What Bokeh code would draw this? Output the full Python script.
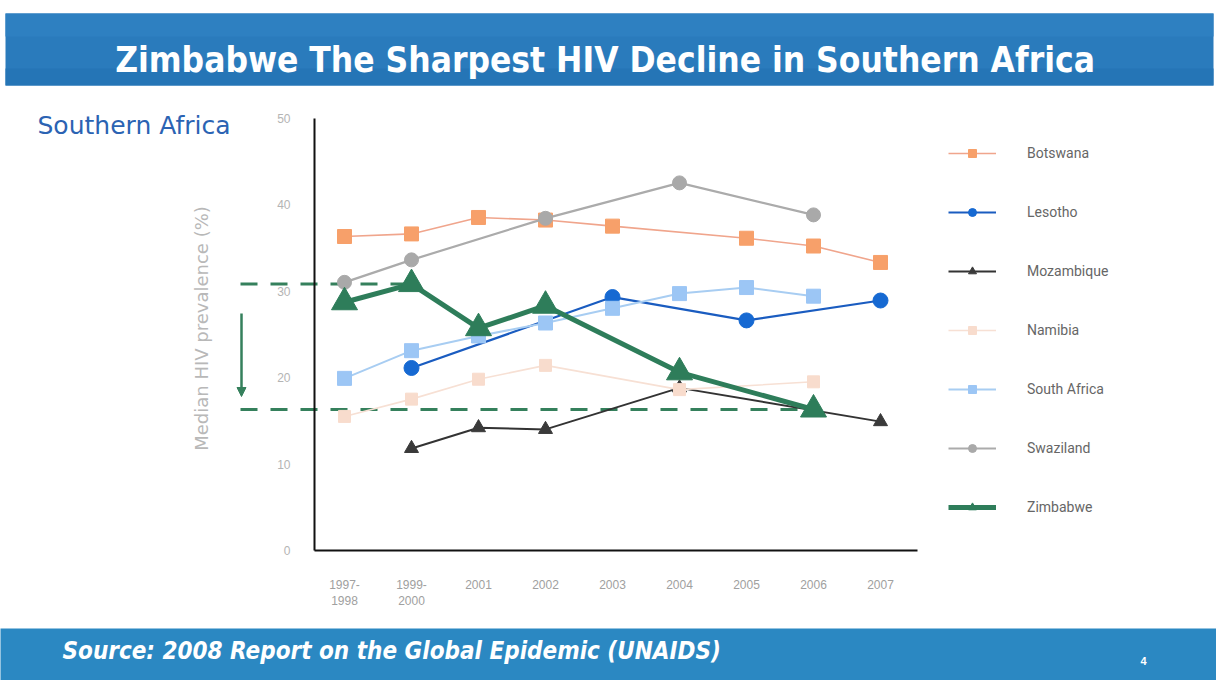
from math import pi
from bokeh.plotting import figure
from bokeh.models import Range1d, FixedTicker, BoxAnnotation, Label, Arrow, NormalHead
from bokeh.embed import file_html
from bokeh.resources import INLINE

# ---------------- data ----------------
categories = ["1997-\n1998", "1999-\n2000", "2001", "2002", "2003", "2004", "2005", "2006", "2007"]
y_ticks = [0, 10, 20, 30, 40, 50]

botswana     = [36.3, 36.6, 38.5, 38.2, 37.5, None, 36.1, 35.2, 33.3]
lesotho      = [None, 21.1, None, None, 29.3, None, 26.6, None, 28.9]
mozambique   = [None, 11.8, 14.2, 14.0, None, 18.8, None, None, 14.9]
namibia      = [15.5, 17.5, 19.8, 21.4, None, 18.6, None, 19.5, None]
south_africa = [19.9, 23.1, 24.8, 26.3, 28.0, 29.7, 30.4, 29.4, None]
swaziland    = [31.0, 33.6, None, 38.4, None, 42.5, None, 38.8, None]
zimbabwe     = [28.7, 30.8, 25.7, 28.3, None, 20.6, None, 16.3, None]

series = [
    ("Botswana", botswana, "#f0a58c", "#f7a06a", "square", 14, 1.6),
    ("Lesotho", lesotho, "#1a5cc0", "#1669d2", "circle", 15, 2.2),
    ("Mozambique", mozambique, "#333333", "#3a3a3a", "triangle", 14, 2.0),
    ("Namibia", namibia, "#f7e0d4", "#f8dccd", "square", 12, 1.6),
    ("South Africa", south_africa, "#a8cdf2", "#9cc6f5", "square", 14, 2.0),
    ("Swaziland", swaziland, "#ababab", "#a9a9a9", "circle", 14, 2.2),
    ("Zimbabwe", zimbabwe, "#2e7d5a", "#2e7d5a", "triangle", 26, 5.0),
]

# ---------------- layout geometry ----------------
W, H = 1216, 680
PX0, DX = 344.0, 67.0      # canvas x of first category, px per category
Y0, DY = 550.0, 8.65       # canvas y (from top) of value 0, px per unit

def dx(cx):
    return (cx - PX0) / DX

def dy(cy):
    return (Y0 - cy) / DY

p = figure(width=W, height=H,
           x_range=Range1d(dx(0), dx(W)), y_range=Range1d(dy(H), dy(0)),
           output_backend="svg", toolbar_location=None, min_border=0,
           outline_line_color=None, background_fill_color="white",
           border_fill_color="white")
p.xgrid.visible = False
p.ygrid.visible = False

# axes
p.yaxis.fixed_location = dx(314)
p.yaxis.bounds = (0, 50)
p.yaxis.ticker = FixedTicker(ticks=y_ticks)
p.yaxis.major_tick_line_color = None
p.yaxis.minor_tick_line_color = None
p.yaxis.major_tick_out = 0
p.yaxis.major_label_standoff = 24
p.yaxis.major_label_text_color = "#b4b4b4"
p.yaxis.major_label_text_font_size = "12px"
p.yaxis.axis_line_color = "#111111"
p.yaxis.axis_line_width = 2

p.xaxis.fixed_location = 0
p.xaxis.bounds = (dx(314), dx(917))
p.xaxis.ticker = FixedTicker(ticks=list(range(len(categories))))
p.xaxis.major_label_overrides = {i: c for i, c in enumerate(categories)}
p.xaxis.major_tick_line_color = None
p.xaxis.minor_tick_line_color = None
p.xaxis.major_tick_out = 0
p.xaxis.major_label_standoff = 27
p.xaxis.major_label_text_color = "#a0a0a0"
p.xaxis.major_label_text_font_size = "12px"
p.xaxis.axis_line_color = "#111111"
p.xaxis.axis_line_width = 2

# title bar
p.add_layout(BoxAnnotation(left=dx(5), right=dx(1213), top=dy(13), bottom=dy(85),
                           fill_color="#2a7bbc", fill_alpha=1, line_color=None))
p.add_layout(BoxAnnotation(left=dx(5), right=dx(1213), top=dy(13), bottom=dy(36),
                           fill_color="#2e80c1", fill_alpha=1, line_color=None))
p.add_layout(BoxAnnotation(left=dx(5), right=dx(1213), top=dy(68), bottom=dy(85),
                           fill_color="#2575b6", fill_alpha=1, line_color=None))
p.add_layout(Label(x=dx(610), y=dy(59), text="Zimbabwe  The Sharpest HIV Decline in Southern Africa",
                   text_align="center", text_baseline="middle", text_color="white",
                   text_font="DejaVu Sans Condensed", text_font_style="bold",
                   text_font_size="35px"))

# footer bar
p.add_layout(BoxAnnotation(left=dx(-5), right=dx(W + 5), top=dy(628), bottom=dy(H + 5),
                           fill_color="#2b88c2", fill_alpha=1, line_color=None))
p.add_layout(Label(x=dx(62), y=dy(650), text="Source: 2008 Report on the Global Epidemic (UNAIDS)",
                   text_align="left", text_baseline="middle", text_color="white",
                   text_font="DejaVu Sans Condensed", text_font_style="bold italic",
                   text_font_size="24px"))
p.add_layout(Label(x=dx(1143), y=dy(660), text="4", text_align="center",
                   text_baseline="middle", text_color="white", text_font_size="11px",
                   text_font_style="bold"))

# subtitle and y label
p.add_layout(Label(x=dx(37), y=dy(125), text="Southern Africa", text_align="left",
                   text_baseline="middle", text_color="#2b63b3",
                   text_font="DejaVu Sans", text_font_size="25px"))
p.add_layout(Label(x=dx(201), y=dy(328), text="Median HIV prevalence (%)", angle=pi / 2,
                   text_align="center", text_baseline="middle", text_color="#b8b8b8",
                   text_font="DejaVu Sans", text_font_size="18px"))

# reference dashed lines at Zimbabwe's 1999 peak and 2006 level
zim_peak_i, zim_low_i = 1, 7
p.segment(x0=[dx(240), dx(240)], y0=[zimbabwe[zim_peak_i], zimbabwe[zim_low_i]],
          x1=[zim_peak_i, zim_low_i], y1=[zimbabwe[zim_peak_i], zimbabwe[zim_low_i]],
          line_color="#35805c", line_width=3, line_dash="17 13")
p.add_layout(Arrow(end=NormalHead(size=9, fill_color="#35805c", line_color="#35805c"),
                   x_start=dx(241), y_start=dy(313), x_end=dx(241), y_end=dy(396),
                   line_color="#35805c", line_width=2.5))

# series
for name, vals, lc, mc, marker, size, lw in series:
    xs = [i for i, v in enumerate(vals) if v is not None]
    ys = [v for v in vals if v is not None]
    p.line(xs, ys, line_color=lc, line_width=lw, legend_label=name)
    p.scatter(xs, ys, marker=marker, size=size, fill_color=mc, line_color=mc,
              legend_label=name)

lg = p.legend[0]
lg.location = (948, H - 517)
lg.glyph_width = 48
lg.glyph_height = 20
lg.label_height = 20
lg.spacing = 39
lg.padding = 0
lg.margin = 0
lg.label_standoff = 31
lg.label_text_font = "Roboto"
lg.label_text_font_size = "14px"
lg.label_text_color = "#666666"
lg.background_fill_alpha = 0
lg.border_line_color = None

open("out.html", "w").write(file_html(p, INLINE))
